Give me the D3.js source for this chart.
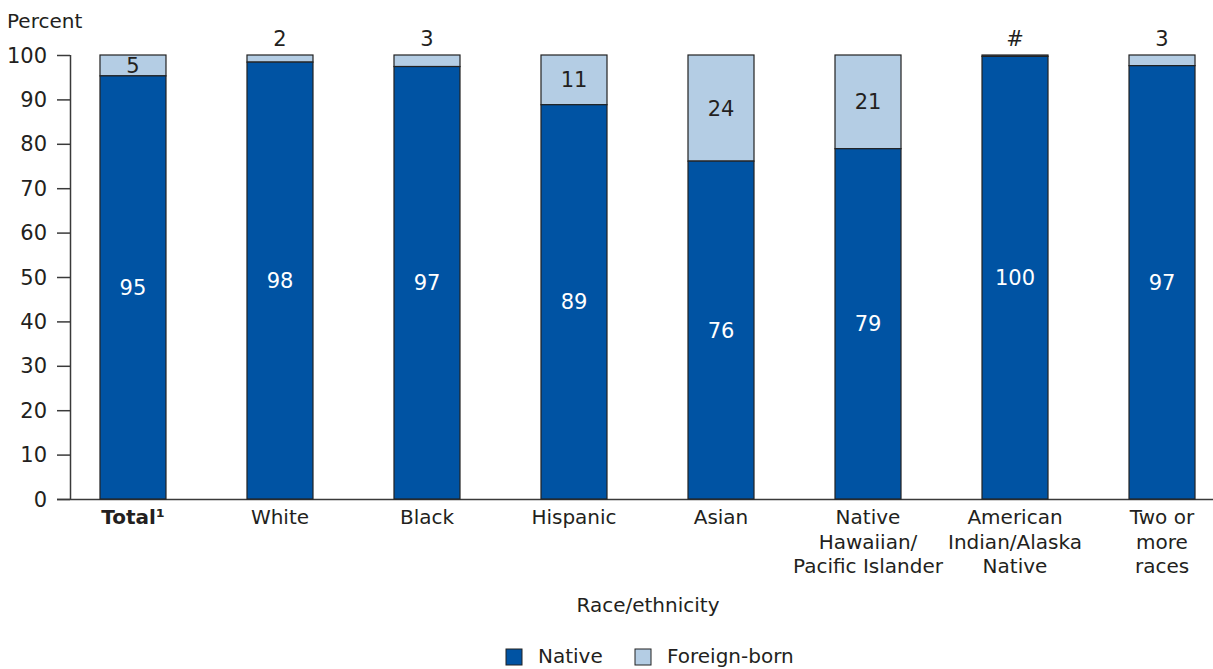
<!DOCTYPE html>
<html><head><meta charset="utf-8">
<script src="https://cdn.jsdelivr.net/npm/d3@7"></script>
<style>
body{margin:0;background:#fff;}
text{font-family:"DejaVu Sans","Liberation Sans",Arial,sans-serif;fill:#231f20;}
</style></head>
<body>
<svg id="chart" width="1213" height="669"></svg>
<script>
const categories = [["Total\u00B9"],["White"],["Black"],["Hispanic"],["Asian"],["Native","Hawaiian/","Pacific Islander"],["American","Indian/Alaska","Native"],["Two or","more","races"]];
const nativeValues = [95.3, 98.4, 97.4, 88.8, 76.1, 78.9, 99.7, 97.6];
const foreignValues = [4.7, 1.6, 2.6, 11.2, 23.9, 21.1, 0.3, 2.4];
const nativeLabels = ["95","98","97","89","76","79","100","97"];
const foreignLabels = ["5","2","3","11","24","21","#","3"];
const foreignInside = [true,false,false,true,true,true,false,false];
const yTicks = [0,10,20,30,40,50,60,70,80,90,100];
const seriesNames = ["Native","Foreign-born"];
const colors = ["#0053a3","#b4cde4"];

const svg = d3.select("#chart");
const x = d3.scaleBand().domain(d3.range(categories.length)).range([70, 1225]).paddingInner(0.551).paddingOuter(0.204);
const y = d3.scaleLinear().domain([0,100]).range([499, 55]);

// axes
svg.append("line").attr("x1",57).attr("x2",1213).attr("y1",y(0)+0.5).attr("y2",y(0)+0.5).attr("stroke","#3a3a3a").attr("stroke-width",1.5);
svg.append("line").attr("x1",70.5).attr("x2",70.5).attr("y1",y(100)).attr("y2",y(0)).attr("stroke","#3a3a3a").attr("stroke-width",1.5);
const yg = svg.append("g");
yTicks.forEach(t=>{
  yg.append("line").attr("x1",57).attr("x2",70).attr("y1",y(t)+0.5).attr("y2",y(t)+0.5).attr("stroke","#3a3a3a").attr("stroke-width",1.5);
  yg.append("text").attr("x",47).attr("y",y(t)).attr("dy","0.36em").attr("text-anchor","end").attr("font-size",21).text(t);
});
svg.append("text").attr("x",7).attr("y",28).attr("font-size",20).text("Percent");

// bars
categories.forEach((c,i)=>{
  const x0 = x(i), w = x.bandwidth();
  const n = nativeValues[i], f = foreignValues[i];
  svg.append("rect").attr("x",x0).attr("y",y(n+f)).attr("width",w).attr("height",y(n)-y(n+f)).attr("fill",colors[1]).attr("stroke","#222").attr("stroke-width",1.2);
  svg.append("rect").attr("x",x0).attr("y",y(n)).attr("width",w).attr("height",y(0)-y(n)).attr("fill",colors[0]).attr("stroke","#222").attr("stroke-width",1.2);
  const cx = x0 + w/2;
  svg.append("text").attr("x",cx).attr("y",(y(n)+y(0))/2).attr("dy","0.36em").attr("text-anchor","middle").attr("font-size",21).style("fill","#fff").text(nativeLabels[i]);
  if (foreignInside[i]) {
    svg.append("text").attr("x",cx).attr("y",(y(n)+y(n+f))/2).attr("dy","0.36em").attr("text-anchor","middle").attr("font-size",21).text(foreignLabels[i]);
  } else {
    svg.append("text").attr("x",cx).attr("y",y(100)-17).attr("dy","0.36em").attr("text-anchor","middle").attr("font-size",21).text(foreignLabels[i]);
  }
  c.forEach((line,j)=>{
    svg.append("text").attr("x",cx).attr("y",524+j*24.5).attr("text-anchor","middle").attr("font-size",20)
      .attr("font-weight", i===0 ? "bold" : "normal").text(line);
  });
});

svg.append("text").attr("x",648).attr("y",612).attr("text-anchor","middle").attr("font-size",20).text("Race/ethnicity");

// legend
const legX = [506, 635];
seriesNames.forEach((s,i)=>{
  svg.append("rect").attr("x",legX[i]).attr("y",649).attr("width",16).attr("height",16).attr("fill",colors[i]).attr("stroke","#222").attr("stroke-width",1);
  svg.append("text").attr("x",legX[i]+32).attr("y",663).attr("font-size",20).text(s);
});
</script>
</body></html>
